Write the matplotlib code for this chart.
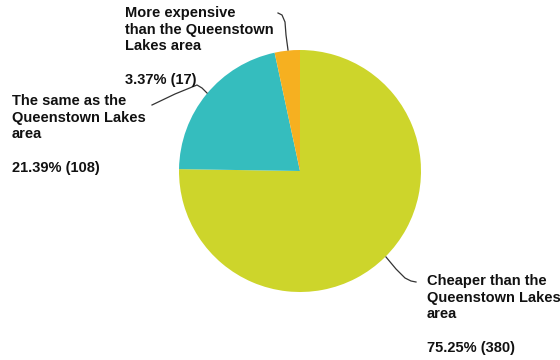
import matplotlib
matplotlib.use("Agg")
import matplotlib.pyplot as plt

categories = ["Cheaper than the\nQueenstown Lakes\narea",
              "The same as the\nQueenstown Lakes\narea",
              "More expensive\nthan the Queenstown\nLakes area"]
percents = [75.25, 21.39, 3.37]
counts = [380, 108, 17]
colors = ["#CDD52B", "#35BDBE", "#F6B020"]

W, H = 560, 360
fig = plt.figure(figsize=(W / 100, H / 100), dpi=100)
ax = fig.add_axes([0, 0, 1, 1])

cx, cy, r = 300, H - 171, 121
ax.pie(counts, colors=colors, startangle=90, counterclock=False,
       center=(cx, cy), radius=r, frame=True,
       wedgeprops=dict(linewidth=0))
ax.set_xlim(0, W)
ax.set_ylim(0, H)
ax.axis("off")

font = dict(family=["Liberation Sans", "DejaVu Sans"], fontweight="bold",
            fontsize=10.5, color="#111111", linespacing=1.24)

label_pos = [(427, 274), (12, 94), (125, 6)]
for cat, p, n, (x, y) in zip(categories, percents, counts, label_pos):
    ax.text(x, H - y, f"{cat}\n\n{p:.2f}% ({n})", ha="left", va="top", **font)

# leader lines (pixel coords, y from top)
leaders = [
    [(386, 257), (396, 269), (405, 278), (411, 281), (416, 282)],
    [(207, 93), (202, 88), (197, 85), (175, 94), (152, 105)],
    [(288, 50), (286, 35), (285, 22), (282, 15), (278, 13)],
]
for pts in leaders:
    xs = [p[0] for p in pts]
    ys = [H - p[1] for p in pts]
    ax.plot(xs, ys, color="#333333", linewidth=0.9)

fig.savefig("out.png", dpi=100)
